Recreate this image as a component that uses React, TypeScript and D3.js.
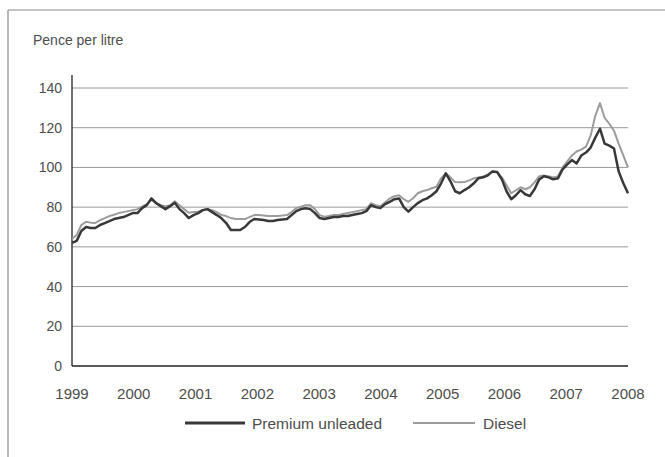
import React from "react";
import * as d3 from "d3";

const yearLabels = ["1999","2000","2001","2002","2003","2004","2005","2006","2007","2008"];
const yTicks = [0, 20, 40, 60, 80, 100, 120, 140];

// Monthly prices, Jan 1999 – Dec 2008 (pence per litre)
const premium = [
  62, 63, 68, 70, 69.5, 69.5, 71, 72, 73, 74, 74.5, 75,
  76, 77, 77, 79.5, 81, 84.4, 82, 80.5, 79, 80.5, 82.2, 79,
  77, 74.5, 76, 77, 78.5, 79, 77.5, 76, 74.4, 72, 68.5, 68.5,
  68.5, 70, 72.5, 74, 73.8, 73.5, 73, 73, 73.5, 73.8, 74, 76,
  78, 79, 79.4, 79, 77, 74.5, 74, 74.5, 75, 75, 75.5, 75.5,
  76, 76.5, 77, 78, 81, 80, 79.5, 81.5, 82.7, 84, 84.4, 80,
  77.7, 80, 82, 83.5, 84.4, 86, 88, 92, 97, 93, 88, 87,
  88.6, 90, 92, 94.6, 95, 96, 98, 97.7, 94, 88, 84, 86,
  88.6, 86.5, 85.6, 89, 94, 95.6, 95, 94, 94.5, 99, 101.5, 103.7,
  102, 106, 107.5, 110, 115, 119.5, 112, 111, 109.5, 98, 92, 87,
];
const diesel = [
  64, 66, 71, 72.6, 72.2, 72, 73.5, 74.5, 75.5, 76.2, 77, 77.5,
  78, 78.5, 79, 80.2, 81.5, 83.6, 82, 81, 80.5, 81, 83, 81,
  79, 77.2, 77.5, 77.7, 78.5, 79, 78.5, 77.5, 76, 75.5, 74.5, 74,
  74, 74, 75, 76, 76, 75.8, 75.5, 75.5, 75.5, 75.8, 76, 77.5,
  79.5, 80.2, 81, 81, 79, 76, 75.2, 75.5, 76, 76, 76.5, 77,
  77.5, 78, 78.5, 79, 82, 81, 80.5, 82.5, 84.4, 85.5, 86, 84,
  82.7, 84.5, 87, 88, 88.6, 89.5, 90.3, 94.5, 97, 95, 92.6, 92.5,
  92.6, 93.5, 94.5, 95, 95.5, 96.5, 98, 97.5, 95, 91, 87, 88.5,
  90, 89, 90, 92.5, 95.6, 96, 95.6, 95, 95.5, 100, 103, 106,
  108, 109, 110.5, 116, 126, 132.4, 125, 122, 118.5, 112, 106, 100,
];

const W = 665, H = 457;
const left = 72, right = 628, top = 88, bottom = 366;

export default function App() {
  const x = d3.scaleLinear().domain([0, premium.length - 1]).range([left, right]);
  const xYear = d3.scalePoint<string>().domain(yearLabels).range([left, right]);
  const y = d3.scaleLinear().domain([0, 140]).range([bottom, top]);
  const line = d3.line<number>().x((_, i) => x(i)).y((d) => y(d));
  const font = "'Liberation Sans', Arial, Helvetica, sans-serif";
  const textColor = "#4d4d4d";

  return (
    <svg width={W} height={H} style={{ position: "absolute", left: 0, top: 0, background: "#fff" }}>
      {/* frame */}
      <line x1={8} y1={10} x2={W} y2={10} stroke="#8a8a8a" strokeWidth={1.2} />
      <line x1={8} y1={10} x2={8} y2={H} stroke="#8a8a8a" strokeWidth={1.2} />

      <text x={33} y={45} fontFamily={font} fontSize={14} fill={textColor}>Pence per litre</text>

      {/* gridlines */}
      {yTicks.filter((t) => t > 0).map((t) => (
        <line key={t} x1={left} x2={right} y1={y(t)} y2={y(t)} stroke="#9a9a9a" strokeWidth={1} />
      ))}
      {yTicks.map((t) => (
        <text key={"l" + t} x={62} y={y(t) + 5} textAnchor="end" fontFamily={font} fontSize={14} fill={textColor}>{t}</text>
      ))}

      {/* axes */}
      <line x1={left} x2={left} y1={75} y2={bottom} stroke="#222" strokeWidth={1.3} />
      <line x1={left} x2={right} y1={bottom} y2={bottom} stroke="#222" strokeWidth={1.5} />

      {yearLabels.map((yl) => (
        <text key={yl} x={xYear(yl)} y={399} textAnchor="middle" fontFamily={font} fontSize={15} fill={textColor}>{yl}</text>
      ))}

      {/* series */}
      <path d={line(diesel) || ""} fill="none" stroke="#9c9c9c" strokeWidth={2} strokeLinejoin="round" />
      <path d={line(premium) || ""} fill="none" stroke="#383838" strokeWidth={2.5} strokeLinejoin="round" />

      {/* legend */}
      <line x1={185} x2={245} y1={423} y2={423} stroke="#383838" strokeWidth={3} />
      <text x={252} y={429} fontFamily={font} fontSize={15.5} fill={textColor}>Premium unleaded</text>
      <line x1={413} x2={475} y1={423} y2={423} stroke="#9c9c9c" strokeWidth={2} />
      <text x={483} y={429} fontFamily={font} fontSize={15.5} fill={textColor}>Diesel</text>
    </svg>
  );
}
